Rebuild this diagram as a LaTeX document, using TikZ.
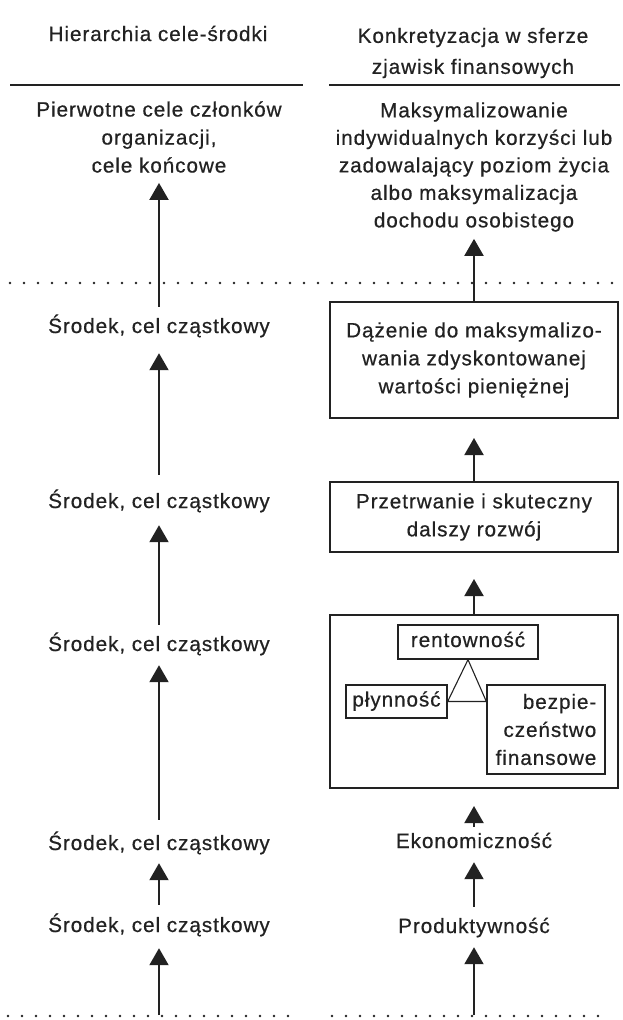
\documentclass[tikz,border=0pt]{standalone}
\usepackage{fontspec}
\setmainfont{Liberation Sans}[LetterSpace=4.5, FakeBold=0.6]
\usetikzlibrary{arrows.meta}
\definecolor{ink}{HTML}{222222}
\begin{document}
\begin{tikzpicture}[x=1pt,y=-1pt,
  every node/.style={font=\fontsize{20.7}{28}\selectfont, text=ink, inner sep=0pt},
  lbl/.style={text height=15pt, text depth=5pt},
  arr/.style={draw=ink, line width=2pt, -{Triangle[width=19pt,length=17pt]}},
  rulel/.style={draw=ink, line width=1.8pt},
  dots/.style={draw=ink, line width=2.6pt, line cap=round, dash pattern=on 0pt off 14pt},
  bigbox/.style={draw=ink, line width=2pt, align=center, minimum width=288pt},
  smallbox/.style={draw=ink, line width=1.3pt},
  tri/.style={draw=ink, line width=1.1pt, line join=miter}]
\path[use as bounding box] (0,0) rectangle (623,1020);

% headers
\node[lbl] (h1) at (158,36) {Hierarchia cele-środki};
\node[align=center] (h2) at (473,53) {Konkretyzacja w sferze\\[3pt]zjawisk finansowych};
\draw[rulel] (10,85) -- (303,85);
\draw[rulel] (329,85) -- (620,85);

% dotted separators
\draw[dots] (10,283) -- (615,283);
\draw[dots] (8,1016) -- (296,1016);
\draw[dots] (332,1016) -- (612,1016);

% left column
\node[align=center] (pier) at (159,137) {Pierwotne cele członków\\organizacji,\\cele końcowe};
\node[lbl] (s1) at (159,328) {Środek, cel cząstkowy};
\node[lbl] (s2) at (159,503) {Środek, cel cząstkowy};
\node[lbl] (s3) at (159,646) {Środek, cel cząstkowy};
\node[lbl] (s4) at (159,845) {Środek, cel cząstkowy};
\node[lbl] (s5) at (159,927) {Środek, cel cząstkowy};
\coordinate (bl) at (159,1015);

\draw[arr, shorten <=11pt, shorten >=10pt] (s1.north) -- (pier.south);
\draw[arr, shorten <=18pt, shorten >=15pt] (s2.north) -- (s1.south);
\draw[arr, shorten <=11pt, shorten >=12pt] (s3.north) -- (s2.south);
\draw[arr, shorten <=15pt, shorten >=9pt] (s4.north) -- (s3.south);
\draw[arr, shorten <=12pt, shorten >=8pt] (s5.north) -- (s4.south);
\draw[arr, shorten >=11pt] (bl) -- (s5.south);

% right column
\node[align=center, font=\fontsize{20.7}{27.5}\selectfont] (maks) at (474,167)
  {Maksymalizowanie\\indywidualnych korzyści lub\\zadowalający poziom życia\\albo maksymalizacja\\dochodu osobistego};
\node[bigbox, minimum height=116pt] (b1) at (474,360)
  {Dążenie do maksymalizo-\\wania zdyskontowanej\\wartości pieniężnej};
\node[bigbox, minimum height=70pt] (b2) at (474,517)
  {Przetrwanie i skuteczny\\dalszy rozwój};
\node[bigbox, minimum height=173pt] (b3) at (474,701.5) {};
\node[smallbox, lbl, minimum width=140pt, minimum height=34pt] (rent) at (468,642) {rentowność};
\node[smallbox, lbl, minimum width=101pt, minimum height=33pt] (plyn) at (396.5,701.5) {płynność};
\node[smallbox, align=right, minimum width=118pt, minimum height=89pt] (bezp) at (546,729.5)
  {bezpie-\\czeństwo\\finansowe};
\draw[tri] (rent.south) -- (plyn.east) -- (bezp.west |- plyn.east) -- cycle;
\node[lbl] (ekon) at (474,843) {Ekonomiczność};
\node[lbl] (prod) at (474,928) {Produktywność};
\coordinate (br) at (474,1015);

\draw[arr, shorten >=7pt] (b1.north) -- (maks.south);
\draw[arr, shorten >=19pt] (b2.north) -- (b1.south);
\draw[arr, shorten >=26pt] (b3.north) -- (b2.south);
\draw[arr, shorten <=6pt, shorten >=17pt] (ekon.north) -- (b3.south);
\draw[arr, shorten <=11pt, shorten >=9pt] (prod.north) -- (ekon.south);
\draw[arr, shorten >=9pt] (br) -- (prod.south);
\end{tikzpicture}
\end{document}
